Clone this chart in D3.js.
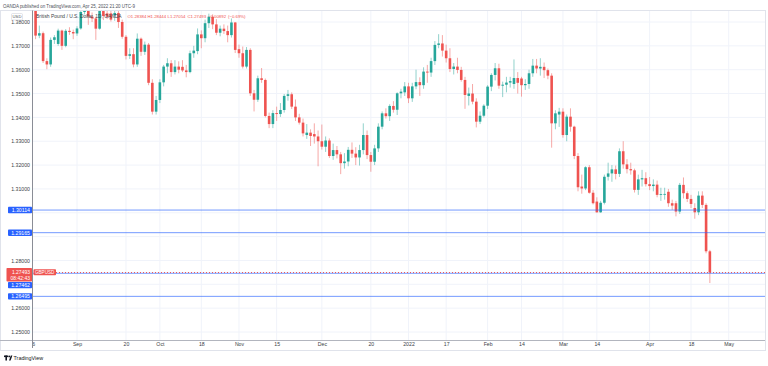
<!DOCTYPE html>
<html><head><meta charset="utf-8">
<script src="https://cdn.jsdelivr.net/npm/d3@7"></script>
<style>body{margin:0;background:#fff}svg{display:block;font-family:"Liberation Sans",Arial,sans-serif}</style>
</head><body>
<script>
// ---------- data (GBPUSD daily, OANDA) ----------
const firstDay = "2021-08-16";
const lastVisibleDay = "2022-05-13";
const open = [
1.3875,1.3852,1.3743,1.3753,1.3636,1.3622,1.3725,1.3708,1.3764,1.3700,
1.3763,1.3758,1.3752,1.3773,1.3842,1.3868,1.3823,1.3815,1.3772,1.3846,
1.3836,1.3836,1.3828,1.3838,1.3800,1.3738,1.3658,1.3665,1.3622,1.3730,
1.3675,1.3705,1.3545,1.3424,1.3473,1.3547,1.3613,1.3627,1.3590,1.3613,
1.3612,1.3597,1.3590,1.3669,1.3678,1.3748,1.3732,1.3795,1.3822,1.3790,
1.3755,1.3772,1.3762,1.3745,1.3798,1.3686,1.3669,1.3613,1.3683,1.3501,
1.3474,1.3564,1.3557,1.3406,1.3372,1.3418,1.3414,1.3431,1.3490,1.3497,
1.3445,1.3400,1.3378,1.3326,1.3336,1.3330,1.3320,1.3300,1.3277,1.3303,
1.3238,1.3263,1.3245,1.3208,1.3215,1.3264,1.3248,1.3232,1.3263,1.3326,
1.3242,1.3214,1.3270,1.3361,1.3417,1.3405,1.3448,1.3432,1.3501,1.3505,
1.3530,1.3480,1.3530,1.3548,1.3535,1.3592,1.3588,1.3636,1.3704,1.3710,
1.3680,1.3648,1.3603,1.3613,1.3599,1.3557,1.3490,1.3500,1.3466,1.3382,
1.3407,1.3449,1.3529,1.3578,1.3606,1.3533,1.3537,1.3546,1.3540,1.3565,
1.3563,1.3535,1.3540,1.3585,1.3617,1.3605,1.3612,1.3598,1.3575,1.3375,
1.3412,1.3424,1.3326,1.3403,1.3361,1.3238,1.3110,1.3102,1.3191,1.3084,
1.3047,1.3002,1.3042,1.3151,1.3165,1.3182,1.3163,1.3258,1.3203,1.3183,
1.3178,1.3096,1.3140,1.3145,1.3120,1.3112,1.3118,1.3075,1.3076,1.3088,
1.3040,1.3040,1.3005,1.3117,1.3082,1.3058,1.3020,1.3002,1.3072,1.3033,
1.28384];
const high = [
1.3890,1.3860,1.3785,1.3760,1.3648,1.3735,1.3745,1.3772,1.3768,1.3770,
1.3778,1.3768,1.3782,1.3860,1.3895,1.3872,1.3840,1.3822,1.3862,1.3868,
1.3858,1.3892,1.3856,1.3848,1.3810,1.3745,1.3690,1.3690,1.3752,1.3735,
1.3718,1.3712,1.3560,1.3490,1.3560,1.3620,1.3648,1.3640,1.3640,1.3635,
1.3640,1.3620,1.3680,1.3700,1.3773,1.3765,1.3810,1.3835,1.3832,1.3812,
1.3785,1.3790,1.3785,1.3815,1.3800,1.3705,1.3697,1.3695,1.3690,1.3515,
1.3575,1.3607,1.3563,1.3420,1.3430,1.3445,1.3460,1.3498,1.3515,1.3505,
1.3475,1.3415,1.3395,1.3372,1.3350,1.3375,1.3345,1.3370,1.3320,1.3312,
1.3290,1.3280,1.3255,1.3250,1.3276,1.3295,1.3275,1.3285,1.3375,1.3345,
1.3255,1.3285,1.3375,1.3425,1.3438,1.3455,1.3468,1.3505,1.3520,1.3548,
1.3545,1.3545,1.3600,1.3568,1.3610,1.3620,1.3650,1.3720,1.3749,1.3745,
1.3705,1.3690,1.3628,1.3650,1.3612,1.3570,1.3525,1.3540,1.3480,1.3425,
1.3455,1.3535,1.3585,1.3628,1.3625,1.3550,1.3570,1.3570,1.3643,1.3590,
1.3570,1.3560,1.3600,1.3645,1.3645,1.3648,1.3630,1.3605,1.3585,1.3430,
1.3440,1.3438,1.3412,1.3438,1.3365,1.3250,1.3160,1.3195,1.3200,1.3095,
1.3065,1.3050,1.3160,1.3210,1.3200,1.3198,1.3270,1.3300,1.3225,1.3210,
1.3185,1.3160,1.3180,1.3170,1.3150,1.3140,1.3135,1.3105,1.3105,1.3100,
1.3055,1.3050,1.3125,1.3148,1.3090,1.3075,1.3040,1.3090,1.3090,1.3040,
1.28444];
const low = [
1.3840,1.3728,1.3732,1.3628,1.3602,1.3612,1.3708,1.3700,1.3683,1.3694,
1.3746,1.3728,1.3742,1.3768,1.3832,1.3788,1.3800,1.3725,1.3768,1.3808,
1.3812,1.3802,1.3805,1.3775,1.3730,1.3643,1.3645,1.3610,1.3612,1.3658,
1.3662,1.3535,1.3412,1.3412,1.3460,1.3530,1.3585,1.3570,1.3580,1.3585,
1.3590,1.3568,1.3585,1.3650,1.3665,1.3690,1.3715,1.3775,1.3770,1.3745,
1.3740,1.3750,1.3715,1.3735,1.3670,1.3650,1.3605,1.3605,1.3490,1.3425,
1.3465,1.3545,1.3400,1.3355,1.3355,1.3385,1.3402,1.3420,1.3470,1.3435,
1.3385,1.3370,1.3320,1.3310,1.3280,1.3290,1.3195,1.3265,1.3255,1.3230,
1.3222,1.3228,1.3162,1.3185,1.3195,1.3230,1.3200,1.3198,1.3245,1.3225,
1.3172,1.3200,1.3255,1.3350,1.3395,1.3385,1.3420,1.3410,1.3480,1.3490,
1.3460,1.3465,1.3518,1.3490,1.3520,1.3545,1.3570,1.3620,1.3690,1.3655,
1.3630,1.3590,1.3580,1.3585,1.3550,1.3436,1.3450,1.3455,1.3358,1.3372,
1.3400,1.3435,1.3510,1.3555,1.3520,1.3485,1.3505,1.3525,1.3520,1.3500,
1.3487,1.3515,1.3520,1.3570,1.3585,1.3575,1.3565,1.3560,1.3273,1.3350,
1.3360,1.3315,1.3300,1.3340,1.3225,1.3090,1.3080,1.3095,1.3080,1.3035,
1.3000,1.3000,1.3035,1.3135,1.3130,1.3140,1.3150,1.3185,1.3165,1.3160,
1.3085,1.3075,1.3110,1.3110,1.3095,1.3090,1.3065,1.3050,1.3055,1.3025,
1.3012,1.2985,1.2995,1.3060,1.3045,1.3020,1.2975,1.2990,1.3020,1.2830,
1.27054];
const close = [
1.3852,1.3743,1.3753,1.3636,1.3622,1.3725,1.3736,1.3764,1.3700,1.3763,
1.3758,1.3752,1.3773,1.3842,1.3868,1.3823,1.3815,1.3772,1.3848,1.3825,
1.3822,1.3810,1.3838,1.3800,1.3738,1.3658,1.3665,1.3622,1.3730,1.3675,
1.3705,1.3545,1.3424,1.3473,1.3547,1.3613,1.3627,1.3590,1.3613,1.3600,
1.3597,1.3590,1.3669,1.3680,1.3748,1.3732,1.3795,1.3822,1.3790,1.3755,
1.3772,1.3762,1.3745,1.3798,1.3683,1.3669,1.3613,1.3683,1.3501,1.3474,
1.3564,1.3557,1.3406,1.3372,1.3418,1.3414,1.3431,1.3490,1.3497,1.3445,
1.3400,1.3378,1.3333,1.3336,1.3322,1.3320,1.3300,1.3277,1.3303,1.3238,
1.3263,1.3245,1.3208,1.3215,1.3264,1.3248,1.3232,1.3263,1.3326,1.3242,
1.3214,1.3270,1.3361,1.3417,1.3405,1.3448,1.3432,1.3501,1.3508,1.3530,
1.3480,1.3530,1.3548,1.3535,1.3592,1.3588,1.3636,1.3704,1.3710,1.3680,
1.3648,1.3603,1.3613,1.3599,1.3557,1.3494,1.3500,1.3466,1.3382,1.3407,
1.3449,1.3529,1.3578,1.3606,1.3533,1.3537,1.3546,1.3552,1.3565,1.3545,
1.3535,1.3540,1.3585,1.3617,1.3605,1.3612,1.3598,1.3575,1.3375,1.3417,
1.3424,1.3326,1.3403,1.3361,1.3238,1.3107,1.3102,1.3191,1.3084,1.3040,
1.3002,1.3042,1.3151,1.3165,1.3182,1.3163,1.3258,1.3203,1.3183,1.3178,
1.3096,1.3140,1.3145,1.3120,1.3112,1.3118,1.3075,1.3078,1.3079,1.3040,
1.3030,1.3005,1.3117,1.3082,1.3058,1.3037,1.3002,1.3072,1.3033,1.28385,
1.27493];
const priceTicks = [1.25,1.26,1.27,1.28,1.29,1.30,1.31,1.32,1.33,1.34,1.35,1.36,1.37,1.38];
const timeTickDates  = ["2021-08-16","2021-09-01","2021-09-20","2021-10-01","2021-10-18","2021-11-01","2021-11-15","2021-12-01","2021-12-20","2022-01-03","2022-01-17","2022-02-01","2022-02-14","2022-03-01","2022-03-14","2022-04-01","2022-04-18","2022-05-02"];
const timeTickLabels = ["16","Sep","20","Oct","18","Nov","15","Dec","20","2022","17","Feb","14","Mar","14","Apr","18","May"];
const levelLines = [1.30114, 1.29165, 1.27462, 1.26495];
const countdown = "08:42:43";
const symbolTag = "GBPUSD";
const seriesName = "British Pound / U.S. Dollar, 1D, OANDA";
const headerText = "OANDA published on TradingView.com, Apr 25, 2022 21:20 UTC-9";

// ---------- layout ----------
const W = 768, H = 366;
const plot = {left: 32, right: 765, top: 11, bottom: 340};
const UP = "#26a69a", DOWN = "#ef5350", BLUE = "#2962ff";
const fmtDay = d3.utcFormat("%Y-%m-%d");
const allDays = d3.utcDay.range(new Date(firstDay + "T00:00Z"), d3.utcDay.offset(new Date(lastVisibleDay + "T00:00Z"), 1))
  .filter(d => d.getUTCDay() !== 0 && d.getUTCDay() !== 6).map(fmtDay);
const step = 3.767;
const x = d3.scalePoint().domain(allDays).range([31.8, 31.8 + (allDays.length - 1) * step]);
const y = d3.scaleLinear().domain([1.25, 1.38]).range([332, 22]);

const candles = open.map((o, i) => ({date: allDays[i], o, h: high[i], l: low[i], c: close[i]}));

const svg = d3.select("body").append("svg").attr("width", W).attr("height", H);
svg.append("rect").attr("width", W).attr("height", H).attr("fill", "#fff");

const defs = svg.append("defs");
defs.append("clipPath").attr("id", "plotClip").append("rect")
  .attr("x", plot.left + 0.5).attr("y", plot.top).attr("width", plot.right - plot.left - 0.5).attr("height", plot.bottom - plot.top);
defs.append("clipPath").attr("id", "timeClip").append("rect")
  .attr("x", plot.left + 1).attr("y", plot.bottom).attr("width", plot.right - plot.left).attr("height", 12);

// header
svg.append("text").attr("x", 3).attr("y", 7.6).attr("font-size", 4.5).attr("fill", "#4c4f58")
  .attr("textLength", 132).attr("lengthAdjust", "spacingAndGlyphs").text(headerText);

// frame
svg.append("rect").attr("x", 0.5).attr("y", 10.5).attr("width", 765).attr("height", 340)
  .attr("fill", "none").attr("stroke", "#e0e3eb").attr("stroke-width", 1);

// grid
const grid = svg.append("g").attr("clip-path", "url(#plotClip)");
grid.selectAll("line.h").data(priceTicks).join("line")
  .attr("x1", plot.left).attr("x2", plot.right).attr("y1", d => y(d)).attr("y2", d => y(d))
  .attr("stroke", "#f0f3fa").attr("stroke-width", 1);
grid.selectAll("line.v").data(timeTickDates).join("line")
  .attr("x1", d => x(d)).attr("x2", d => x(d)).attr("y1", plot.top).attr("y2", plot.bottom)
  .attr("stroke", "#f0f3fa").attr("stroke-width", 1);

// candles
const cg = svg.append("g").attr("clip-path", "url(#plotClip)");
const bw = 2.6;
cg.selectAll("line.wick").data(candles).join("line")
  .attr("x1", d => x(d.date)).attr("x2", d => x(d.date))
  .attr("y1", d => y(d.h)).attr("y2", d => y(d.l))
  .attr("stroke", d => d.c >= d.o ? UP : DOWN).attr("stroke-opacity", 0.5).attr("stroke-width", 1);
cg.selectAll("rect.body").data(candles).join("rect")
  .attr("x", d => x(d.date) - bw / 2).attr("width", bw)
  .attr("y", d => y(Math.max(d.o, d.c)))
  .attr("height", d => Math.max(0.8, Math.abs(y(d.o) - y(d.c))))
  .attr("fill", d => d.c >= d.o ? UP : DOWN);

// horizontal levels
const lastClose = close[close.length - 1];
const lg = svg.append("g").attr("clip-path", "url(#plotClip)");
lg.selectAll("line").data(levelLines).join("line")
  .attr("x1", plot.left).attr("x2", plot.right).attr("y1", d => y(d)).attr("y2", d => y(d))
  .attr("stroke", BLUE).attr("stroke-opacity", 0.65).attr("stroke-width", 1);
lg.append("line").attr("x1", plot.left).attr("x2", plot.right).attr("y1", y(lastClose)).attr("y2", y(lastClose))
  .attr("stroke", DOWN).attr("stroke-width", 1).attr("stroke-dasharray", "1,2");

// axes lines
svg.append("line").attr("x1", 0).attr("x2", 765).attr("y1", plot.bottom + 0.5).attr("y2", plot.bottom + 0.5)
  .attr("stroke", "#b2b5be").attr("stroke-width", 1);
svg.append("line").attr("x1", plot.left + 0.5).attr("x2", plot.left + 0.5).attr("y1", 10.5).attr("y2", 348)
  .attr("stroke", "#8a8d96").attr("stroke-width", 1);

// price badges geometry (computed first so that covered tick labels can be hidden)
const fmt5 = d3.format(".5f");
const curY = y(lastClose);
const curTop = curY - 4.6, curBottom = curY + 9;
const bh = 6.4;
const badges = levelLines.map(v => {
  let cy = y(v);
  if (cy + bh / 2 > curTop && cy - bh / 2 < curBottom) cy = curBottom + bh / 2 + 0.4;
  return {v, cy};
});
const covered = ty => badges.some(b => Math.abs(b.cy - ty) < 5.5) || (ty > curTop - 2.5 && ty < curBottom + 2.5);

// left price axis
const yAxis = d3.axisLeft(y).tickValues(priceTicks.filter(v => !covered(y(v))))
  .tickSize(0).tickPadding(0).tickFormat(d3.format(".5f"));
const ya = svg.append("g").attr("transform", "translate(30,0)").call(yAxis);
ya.select(".domain").remove();
ya.selectAll("text").attr("font-size", 5.2).attr("fill", "#3c3f48").attr("font-family", "Liberation Sans, Arial");

// bottom time axis
const xAxis = d3.axisBottom(x).tickValues(timeTickDates).tickSize(0).tickPadding(0)
  .tickFormat((d, i) => timeTickLabels[i]);
const xaOuter = svg.append("g").attr("clip-path", "url(#timeClip)");
const xa = xaOuter.append("g").attr("transform", `translate(0,${plot.bottom + 2.2})`).call(xAxis);
xa.select(".domain").remove();
xa.selectAll("text").attr("font-size", 5.2).attr("fill", "#3c3f48").attr("font-family", "Liberation Sans, Arial");

// USD box
svg.append("rect").attr("x", 11.5).attr("y", 13.5).attr("width", 11).attr("height", 6.5).attr("rx", 1)
  .attr("fill", "#fff").attr("stroke", "#d1d4dc").attr("stroke-width", 0.6);
svg.append("text").attr("x", 17).attr("y", 16.9).attr("font-size", 4.2).attr("fill", "#50535e")
  .attr("text-anchor", "middle").attr("dominant-baseline", "central").text("USD");

// badges
const bg = svg.append("g");
bg.selectAll("rect").data(badges).join("rect")
  .attr("x", 8).attr("y", d => d.cy - bh / 2).attr("width", 24).attr("height", bh).attr("rx", 0.8)
  .attr("fill", BLUE);
bg.selectAll("text").data(badges).join("text")
  .attr("x", 30).attr("y", d => d.cy).attr("text-anchor", "end").attr("dominant-baseline", "central")
  .attr("font-size", 5.2).attr("fill", "#fff").text(d => fmt5(d.v));
svg.append("rect").attr("x", 6.5).attr("y", curTop).attr("width", 25.5).attr("height", curBottom - curTop).attr("rx", 0.8)
  .attr("fill", DOWN);
svg.append("text").attr("x", 30).attr("y", curY - 0.8).attr("text-anchor", "end").attr("dominant-baseline", "central")
  .attr("font-size", 5).attr("fill", "#fff").text(fmt5(lastClose));
svg.append("text").attr("x", 30).attr("y", curY + 5.4).attr("text-anchor", "end").attr("dominant-baseline", "central")
  .attr("font-size", 5).attr("fill", "#fff").text(countdown);
// symbol tag
svg.append("rect").attr("x", 33.5).attr("y", curY - 3.4).attr("width", 22.5).attr("height", 6.2).attr("rx", 0.8).attr("fill", DOWN);
svg.append("text").attr("x", 44.7).attr("y", curY - 0.3).attr("text-anchor", "middle").attr("dominant-baseline", "central")
  .attr("font-size", 4.6).attr("fill", "#fff").text(symbolTag);

// legend
const prevClose = close[close.length - 2];
const chg = lastClose - prevClose;
const legendTokens = [
  {t: "O" + fmt5(open[open.length - 1]), x: 127.5},
  {t: "H" + fmt5(high[high.length - 1]), x: 147.5},
  {t: "L" + fmt5(low[low.length - 1]), x: 167.5},
  {t: "C" + fmt5(lastClose), x: 187.5},
  {t: d3.format("+.5f")(chg).replace("-", "\u2212"), x: 208},
  {t: "(" + d3.format("+.2%")(chg / prevClose).replace("-", "\u2212") + ")", x: 228}
];
svg.append("text").attr("x", 36).attr("y", 16.2).attr("dominant-baseline", "central").attr("font-size", 4.9)
  .attr("fill", "#3c3f48").text(seriesName);
svg.append("g").selectAll("text").data(legendTokens).join("text")
  .attr("x", d => d.x).attr("y", 16.2).attr("dominant-baseline", "central").attr("font-size", 4.3)
  .attr("fill", DOWN).text(d => d.t);

// TradingView logo
const logo = svg.append("g").attr("fill", "#131722");
logo.append("rect").attr("x", 4).attr("y", 355.5).attr("width", 4).attr("height", 1.6);
logo.append("rect").attr("x", 5.4).attr("y", 355.5).attr("width", 1.6).attr("height", 5);
logo.append("circle").attr("cx", 9.2).attr("cy", 356.4).attr("r", 0.9);
logo.append("path").attr("d", "M10.8,355.5 L12.4,355.5 L10.6,360.5 L9,360.5 Z");
svg.append("text").attr("x", 13.5).attr("y", 358.2).attr("dominant-baseline", "central").attr("font-size", 5.4)
  .attr("fill", "#131722").text("TradingView");
</script>
</body></html>
